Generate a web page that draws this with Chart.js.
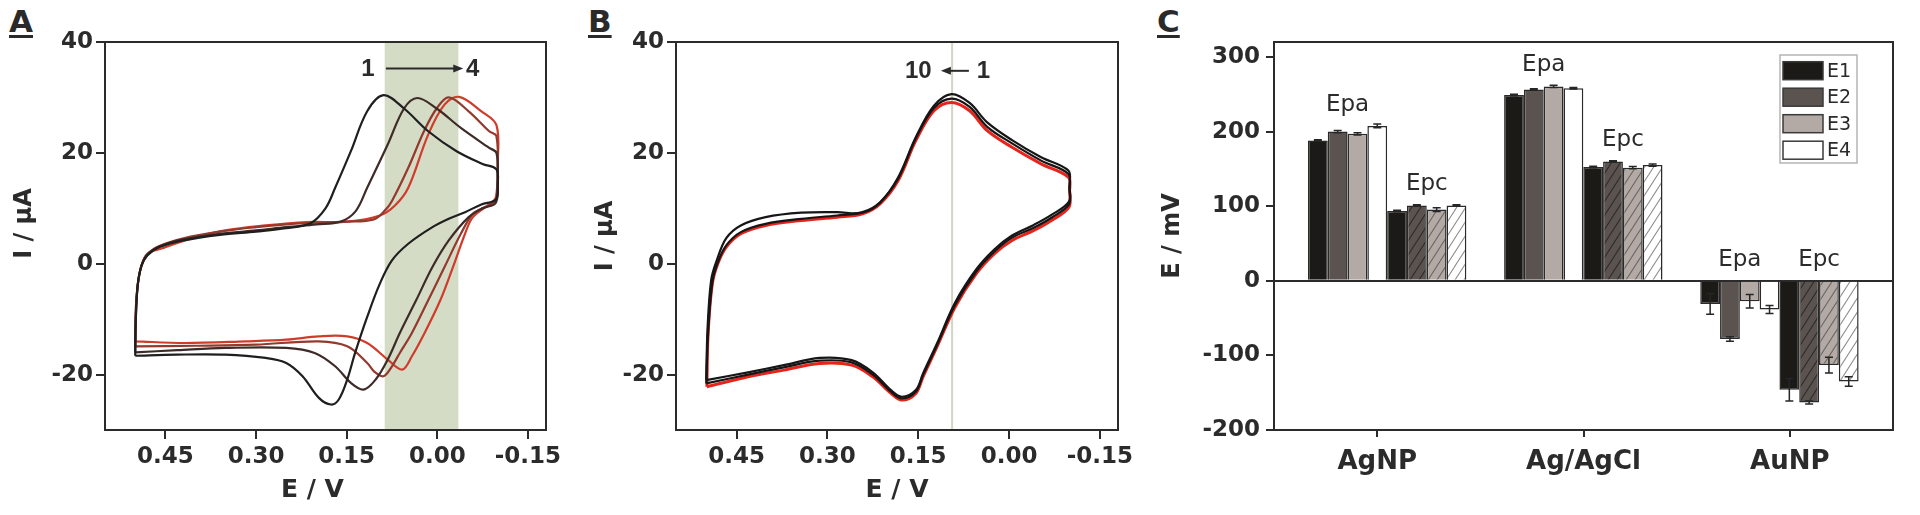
<!DOCTYPE html>
<html><head><meta charset="utf-8">
<script src="https://cdn.jsdelivr.net/npm/chart.js@4.4.1/dist/chart.umd.min.js"></script>
<style>
html,body{margin:0;padding:0;background:#fff;width:1920px;height:515px;overflow:hidden;position:relative;}
canvas{position:absolute;top:0;}
.plabel{position:absolute;top:6px;font:bold 31px/31px "DejaVu Sans",sans-serif;color:#2a2a2a;text-decoration:underline;text-decoration-thickness:3px;text-underline-offset:3px;}
</style></head><body>
<div class="plabel" style="left:9px">A</div>
<div class="plabel" style="left:588px">B</div>
<div class="plabel" style="left:1157px">C</div>
<canvas id="cA" width="580" height="515" style="left:0"></canvas>
<canvas id="cB" width="560" height="515" style="left:580px"></canvas>
<canvas id="cC" width="780" height="515" style="left:1140px"></canvas>
<script>
// ---------- Panel A data: CV scans 1..4, pairs [E (V), I (µA)] ----------
const cvA1 = [[0.500,-16.6],[0.499,-10],[0.496,-4],[0.490,-0.5],[0.480,1.5],[0.460,3.0],[0.420,4.2],[0.360,5.2],[0.300,5.8],[0.250,6.4],[0.210,7.3],[0.185,10.0],[0.169,13.7],[0.143,20.3],[0.116,27.5],[0.089,30.4],[0.055,28.0],[0.015,23.9],[-0.032,20.3],[-0.075,18.0],[-0.098,17.0],[-0.100,14.0],[-0.097,11.6],[-0.073,10.7],[-0.046,9.3],[-0.019,8.1],[0.008,6.6],[0.048,3.6],[0.075,0.6],[0.095,-3.6],[0.116,-9.6],[0.136,-16.1],[0.149,-20.9],[0.163,-24.5],[0.176,-25.4],[0.196,-24.2],[0.223,-20.3],[0.250,-17.9],[0.284,-17.0],[0.351,-16.4],[0.432,-16.4],[0.500,-16.6]];
const cvA2 = [[0.500,-16.0],[0.499,-10],[0.496,-4],[0.490,-0.5],[0.480,1.6],[0.460,3.1],[0.420,4.4],[0.360,5.4],[0.300,6.0],[0.250,6.6],[0.200,7.1],[0.160,7.6],[0.135,9.5],[0.116,13.7],[0.082,21.5],[0.055,28.0],[0.033,29.9],[0.001,28.0],[-0.039,24.5],[-0.086,20.9],[-0.098,20.0],[-0.100,15.0],[-0.097,11.0],[-0.075,10.0],[-0.052,8.4],[-0.019,4.2],[0.008,-0.6],[0.035,-6.6],[0.062,-12.5],[0.082,-17.3],[0.102,-20.9],[0.122,-22.7],[0.143,-21.5],[0.169,-18.5],[0.203,-16.1],[0.250,-15.2],[0.351,-15.2],[0.430,-15.6],[0.500,-16.0]];
const cvA3 = [[0.500,-14.9],[0.499,-9],[0.496,-4],[0.490,-0.5],[0.480,1.7],[0.460,3.2],[0.420,4.6],[0.360,5.8],[0.300,6.6],[0.250,7.1],[0.200,7.4],[0.150,7.6],[0.105,8.0],[0.085,9.8],[0.075,11.3],[0.048,17.3],[0.022,23.9],[0.001,28.0],[-0.019,30.0],[-0.052,27.5],[-0.086,23.9],[-0.098,23.0],[-0.100,16.0],[-0.097,11.5],[-0.075,10.0],[-0.059,9.0],[-0.039,5.4],[-0.012,-0.6],[0.015,-6.6],[0.042,-12.5],[0.062,-16.1],[0.075,-18.5],[0.089,-20.3],[0.104,-19.5],[0.116,-17.9],[0.149,-14.9],[0.196,-14.0],[0.300,-14.6],[0.400,-14.8],[0.500,-14.9]];
const cvA4 = [[0.500,-14.0],[0.499,-8],[0.496,-4],[0.490,-0.5],[0.480,1.8],[0.452,2.9],[0.412,4.4],[0.351,6.0],[0.284,6.9],[0.217,7.5],[0.149,7.6],[0.095,8.7],[0.070,10.5],[0.048,13.7],[0.015,23.3],[-0.012,28.7],[-0.036,30.1],[-0.073,27.5],[-0.098,25.0],[-0.100,18.0],[-0.097,12.0],[-0.086,10.7],[-0.059,8.4],[-0.046,5.4],[-0.026,-0.6],[-0.005,-6.6],[0.021,-12.5],[0.042,-16.7],[0.058,-19.1],[0.082,-17.3],[0.116,-14.3],[0.149,-13.1],[0.196,-13.1],[0.250,-13.7],[0.317,-14.0],[0.418,-14.3],[0.500,-14.0]];
const bandA = [0.087, -0.035];

// ---------- Panel B data: cycles 1, 2 and 10 ----------
const cvB1 = [[0.500,-21.0],[0.498,-12],[0.492,-3],[0.483,0.5],[0.467,4.6],[0.443,6.9],[0.402,8.4],[0.343,9.2],[0.284,9.3],[0.242,9.2],[0.213,11.0],[0.183,15.6],[0.154,22.8],[0.124,28.5],[0.095,30.6],[0.065,29.0],[0.036,25.5],[-0.005,22.3],[-0.053,19.2],[-0.098,16.8],[-0.100,14.0],[-0.099,11.2],[-0.070,8.8],[-0.041,7.0],[-0.005,5.1],[0.024,2.6],[0.054,-1.0],[0.089,-7.0],[0.119,-14.4],[0.142,-19.8],[0.154,-22.8],[0.177,-24.0],[0.195,-22.8],[0.225,-19.6],[0.260,-17.4],[0.313,-17.0],[0.372,-18.3],[0.431,-19.6],[0.500,-21.0]];
const cvB2 = [[0.500,-21.6],[0.497,-12.6],[0.490,-3.4],[0.481,0.2],[0.467,3.3],[0.443,5.7],[0.402,7.2],[0.343,8.1],[0.284,8.7],[0.242,9.3],[0.213,11.1],[0.183,15.4],[0.154,22.6],[0.124,28.1],[0.095,29.8],[0.065,28.3],[0.036,24.7],[-0.005,21.7],[-0.053,18.6],[-0.098,16.2],[-0.100,13.5],[-0.099,10.7],[-0.070,8.3],[-0.041,6.5],[-0.005,4.7],[0.024,2.2],[0.054,-1.4],[0.089,-7.4],[0.119,-14.7],[0.142,-20.1],[0.154,-23.1],[0.177,-24.3],[0.195,-23.1],[0.225,-20.0],[0.260,-17.8],[0.313,-17.5],[0.372,-18.7],[0.431,-20.0],[0.500,-21.6]];
const cvB10 = [[0.499,-22.2],[0.497,-12.6],[0.490,-3.6],[0.481,0.0],[0.467,3.0],[0.443,5.4],[0.402,6.9],[0.343,7.8],[0.284,8.4],[0.242,9.0],[0.213,10.8],[0.183,15.0],[0.154,22.2],[0.124,27.6],[0.095,29.1],[0.065,27.6],[0.036,24.0],[-0.005,21.0],[-0.053,18.0],[-0.098,15.6],[-0.100,13.0],[-0.099,10.2],[-0.070,7.8],[-0.041,6.0],[-0.005,4.2],[0.024,1.8],[0.054,-1.8],[0.089,-7.8],[0.119,-15.0],[0.142,-20.4],[0.154,-23.4],[0.177,-24.6],[0.195,-23.4],[0.225,-20.4],[0.260,-18.3],[0.313,-18.0],[0.372,-19.2],[0.431,-20.4],[0.499,-22.2]];
const vlineB = 0.094;

// shared axis tick values
const eTicks = [0.45, 0.30, 0.15, 0.00, -0.15];
const iTicks = [40, 20, 0, -20];

// ---------- Panel C data ----------
const electrodes = ['AgNP', 'Ag/AgCl', 'AuNP'];
const seriesNames = ['E1', 'E2', 'E3', 'E4'];
const epaE1 = [188, 249, -31];
const epaE2 = [200, 256.5, -78];
const epaE3 = [197, 260.5, -27.5];
const epaE4 = [207.5, 258, -38.5];
const epcE1 = [93.5, 152.5, -146];
const epcE2 = [101, 160, -163];
const epcE3 = [95.5, 151.5, -113];
const epcE4 = [101, 155, -135];
const epaErrE1 = [1, 1, 14];
const epaErrE2 = [1.5, 1, 3];
const epaErrE3 = [1.5, 1.5, 9];
const epaErrE4 = [2.5, 1, 5.5];
const epcErrE1 = [1, 1, 15];
const epcErrE2 = [1, 1, 2];
const epcErrE3 = [2.5, 1.5, 10.5];
const epcErrE4 = [1, 1.5, 6.5];
const mvTicks = [300, 200, 100, 0, -100, -200];

// ---------- styling ----------
const FONT = "'DejaVu Sans', sans-serif";
const INK = '#2b2b2b';
const tickFont = {family: FONT, size: 23, weight: 'bold'};
const titleFont = {family: FONT, size: 24, weight: 'bold'};
const fixedTicks = vals => s => { s.ticks = vals.map(v => ({value: v})); };
const axisGrid = {drawOnChartArea: false, tickLength: 9, tickColor: INK, tickWidth: 2, lineWidth: 2, color: INK};

const framePlugin = {id: 'frame', afterDraw(chart) {
  const {ctx, chartArea: a} = chart;
  ctx.save(); ctx.strokeStyle = INK; ctx.lineWidth = 2;
  ctx.strokeRect(a.left, a.top, a.right - a.left, a.bottom - a.top);
  ctx.restore();
}};

function arrowPlugin(id, spec) {
  return {id, afterDatasetsDraw(chart) {
    const {ctx, scales: {x, y}} = chart;
    const yy = y.getPixelForValue(spec.I);
    const x0 = x.getPixelForValue(spec.from), x1 = x.getPixelForValue(spec.to);
    ctx.save();
    ctx.strokeStyle = INK; ctx.fillStyle = INK; ctx.lineWidth = 2;
    const dir = Math.sign(x1 - x0);
    ctx.beginPath(); ctx.moveTo(x0, yy); ctx.lineTo(x1 - dir * 6, yy); ctx.stroke();
    ctx.beginPath(); ctx.moveTo(x1, yy); ctx.lineTo(x1 - dir * 10, yy - 4); ctx.lineTo(x1 - dir * 10, yy + 4); ctx.closePath(); ctx.fill();
    ctx.font = "bold 24px 'Liberation Sans', Arial, sans-serif";
    ctx.textAlign = 'center'; ctx.textBaseline = 'middle';
    spec.labels.forEach(l => ctx.fillText(l.text, x.getPixelForValue(l.E), yy + 1));
    ctx.restore();
  }};
}

function cvOptions(yWidth, padRight, yTitlePad, xTitle, yTitle) {
  return {
    responsive: false, animation: false,
    layout: {padding: {left: 0, right: padRight, top: 42, bottom: 0}},
    plugins: {legend: {display: false}, tooltip: {enabled: false}},
    scales: {
      x: {type: 'linear', reverse: true, min: -0.18, max: 0.55,
        afterBuildTicks: fixedTicks(eTicks), afterFit: s => { s.height = 85; },
        border: {display: false}, grid: axisGrid,
        ticks: {font: tickFont, color: INK, padding: 4, callback: v => Number(v).toFixed(2)},
        title: {display: true, text: xTitle, font: {family: FONT, size: 25, weight: 'bold'}, color: INK, padding: {top: 0, bottom: 10}}},
      y: {type: 'linear', min: -30, max: 40,
        afterBuildTicks: fixedTicks(iTicks), afterFit: s => { s.width = yWidth; },
        border: {display: false}, grid: axisGrid,
        ticks: {font: tickFont, color: INK, padding: 3},
        title: {display: true, text: yTitle, font: titleFont, color: INK, padding: {top: yTitlePad, bottom: 0}}}
    }
  };
}
const toPts = arr => arr.map(p => ({x: p[0], y: p[1]}));
const cvLine = (arr, color, w) => ({data: toPts(arr), borderColor: color, borderWidth: w, showLine: true, pointRadius: 0, tension: 0.35, fill: false});

// ---------- Panel A ----------
const bandPlugin = {id: 'band', beforeDatasetsDraw(chart) {
  const {ctx, chartArea: a, scales: {x}} = chart;
  const p0 = x.getPixelForValue(bandA[0]), p1 = x.getPixelForValue(bandA[1]);
  ctx.save(); ctx.fillStyle = '#d4dcc6'; ctx.fillRect(Math.min(p0, p1), a.top, Math.abs(p1 - p0), a.bottom - a.top); ctx.restore();
}};
new Chart(document.getElementById('cA'), {
  type: 'scatter',
  data: {datasets: [cvLine(cvA1, '#1f1f1f', 2.2), cvLine(cvA2, '#3e2b27', 2.2), cvLine(cvA3, '#93392d', 2.2), cvLine(cvA4, '#d03c2c', 2.2)]},
  options: cvOptions(105, 34, 10, 'E / V   ', '   I / µA'),
  plugins: [bandPlugin, framePlugin, arrowPlugin('arrA', {I: 35.2, from: 0.085, to: -0.043, labels: [{text: '1', E: 0.1146}, {text: '4', E: -0.0585}]})]
});

// ---------- Panel B ----------
const vlinePlugin = {id: 'vline', beforeDatasetsDraw(chart) {
  const {ctx, chartArea: a, scales: {x}} = chart;
  const p = x.getPixelForValue(vlineB);
  ctx.save(); ctx.strokeStyle = '#d0d6c4'; ctx.lineWidth = 2;
  ctx.beginPath(); ctx.moveTo(p, a.top); ctx.lineTo(p, a.bottom); ctx.stroke(); ctx.restore();
}};
new Chart(document.getElementById('cB'), {
  type: 'scatter',
  data: {datasets: [cvLine(cvB1, '#161616', 2.2), cvLine(cvB2, '#161616', 2.2), cvLine(cvB10, '#e8231b', 3)]},
  options: cvOptions(96, 22, 11, 'E / V', 'I / µA'),
  plugins: [vlinePlugin, framePlugin, arrowPlugin('arrB', {I: 34.8, from: 0.0663, to: 0.1125, labels: [{text: '10', E: 0.1497}, {text: '1', E: 0.0423}]})]
});

// ---------- Panel C ----------
const cC = document.getElementById('cC');
const cctx = cC.getContext('2d');
function hatch(bg, ink) {
  const t = document.createElement('canvas'); t.width = 9; t.height = 14;
  const g = t.getContext('2d');
  g.fillStyle = bg; g.fillRect(0, 0, 9, 14);
  g.strokeStyle = ink; g.lineWidth = 1.1;
  g.beginPath();
  g.moveTo(-1, 15.5); g.lineTo(10, -1.5);
  g.moveTo(-1, 1.5); g.lineTo(1, -1.5);
  g.moveTo(8, 15.5); g.lineTo(10, 12.5);
  g.stroke();
  return cctx.createPattern(t, 'repeat');
}
const fills = ['#1c1a17', '#5a5350', '#b3aaa5', '#ffffff'];
const hatchInk = [null, '#2f2a28', '#6c6460', '#8c8c8c'];
const epaVals = [epaE1, epaE2, epaE3, epaE4], epcVals = [epcE1, epcE2, epcE3, epcE4];
const epaErrs = [epaErrE1, epaErrE2, epaErrE3, epaErrE4], epcErrs = [epcErrE1, epcErrE2, epcErrE3, epcErrE4];
const barSet = (vals, errs, k, group, bg) => ({
  label: seriesNames[k], group, err: errs, swatch: fills[k],
  data: vals.map((v, i) => ({x: i, y: v})),
  backgroundColor: bg, borderColor: '#2a2a2a', borderWidth: 1.5,
  xAxisID: 'xb', yAxisID: 'y'
});
const cDatasets = [
  ...epaVals.map((v, k) => barSet(v, epaErrs[k], k, 'Epa', fills[k])),
  ...epcVals.map((v, k) => barSet(v, epcErrs[k], k, 'Epc', k === 0 ? fills[0] : hatch(fills[k], hatchInk[k])))
];

const errPlugin = {id: 'err', afterDatasetsDraw(chart) {
  const {ctx, scales: {y}} = chart;
  ctx.save(); ctx.strokeStyle = '#262626'; ctx.lineWidth = 1.5;
  chart.data.datasets.forEach((ds, di) => {
    chart.getDatasetMeta(di).data.forEach((bar, i) => {
      const v = ds.data[i].y, e = ds.err[i];
      const y1 = y.getPixelForValue(v + e), y2 = y.getPixelForValue(v - e), x = bar.x, w = 4;
      ctx.beginPath();
      ctx.moveTo(x, y1); ctx.lineTo(x, y2);
      ctx.moveTo(x - w, y1); ctx.lineTo(x + w, y1);
      ctx.moveTo(x - w, y2); ctx.lineTo(x + w, y2);
      ctx.stroke();
    });
  });
  ctx.restore();
}};
const groupLabelPlugin = {id: 'glabels', afterDatasetsDraw(chart) {
  const {ctx, scales: {y}} = chart;
  const ds = chart.data.datasets;
  ctx.save(); ctx.font = `23px ${FONT}`; ctx.fillStyle = INK; ctx.textAlign = 'center'; ctx.textBaseline = 'alphabetic';
  electrodes.forEach((c, i) => {
    ['Epa', 'Epc'].forEach(g => {
      const idx = ds.map((d, k) => k).filter(k => ds[k].group === g);
      const xs = idx.map(k => chart.getDatasetMeta(k).data[i].x);
      const top = Math.min(...idx.map(k => y.getPixelForValue(Math.max(0, ds[k].data[i].y))));
      ctx.fillText(g, xs.reduce((a, b) => a + b, 0) / xs.length, top - 15);
    });
  });
  ctx.restore();
}};
const legendPlugin = {id: 'legendC', afterDraw(chart) {
  const {ctx, chartArea: a} = chart;
  const L = a.right - 113, T = a.top + 13, W = 77, H = 108;
  ctx.save();
  ctx.fillStyle = '#fff'; ctx.fillRect(L, T, W, H);
  ctx.strokeStyle = '#b5b5b5'; ctx.lineWidth = 1.5; ctx.strokeRect(L, T, W, H);
  chart.data.datasets.filter(d => d.group === 'Epa').forEach((d, k) => {
    const cy = T + 15.7 + k * 26.5;
    ctx.fillStyle = d.swatch; ctx.fillRect(L + 3, cy - 9, 40, 18);
    ctx.strokeStyle = '#3a3a3a'; ctx.lineWidth = 1.5; ctx.strokeRect(L + 3, cy - 9, 40, 18);
    ctx.fillStyle = INK; ctx.font = `19px ${FONT}`; ctx.textAlign = 'left'; ctx.textBaseline = 'middle';
    ctx.fillText(d.label, L + 47, cy + 1);
  });
  ctx.restore();
}};

new Chart(cC, {
  type: 'bar',
  data: {datasets: cDatasets},
  options: {
    responsive: false, animation: false,
    layout: {padding: {left: 0, right: 27, top: 42, bottom: 0}},
    datasets: {bar: {categoryPercentage: 0.8075, barPercentage: 1}},
    plugins: {legend: {display: false}, tooltip: {enabled: false}},
    scales: {
      x: {type: 'category', labels: electrodes, offset: true, position: 'bottom',
        afterFit: s => { s.height = 85; },
        border: {display: false},
        grid: {offset: false, drawOnChartArea: false, tickLength: 7, tickColor: INK, tickWidth: 2, lineWidth: 2, color: INK},
        ticks: {font: {family: FONT, size: 26, weight: 'bold'}, color: INK, padding: 10}},
      xb: {type: 'linear', display: false, offset: false, min: -0.577, max: 2.579, position: 'bottom',
        afterBuildTicks: s => { s.ticks = electrodes.map((c, i) => ({value: i})); }},
      y: {type: 'linear', min: -200, max: 320, beginAtZero: false,
        afterBuildTicks: fixedTicks(mvTicks), afterFit: s => { s.width = 134; },
        border: {display: false},
        grid: {drawOnChartArea: true, tickLength: 8, tickColor: INK, tickWidth: 2, lineWidth: 2,
          color: c => (c.tick && c.tick.value === 0) ? INK : 'rgba(0,0,0,0)'},
        ticks: {font: tickFont, color: INK, padding: 6},
        title: {display: true, text: 'E / mV', font: titleFont, color: INK, padding: {top: 18, bottom: 0}}}
    }
  },
  plugins: [errPlugin, groupLabelPlugin, framePlugin, legendPlugin]
});
</script>
</body></html>
